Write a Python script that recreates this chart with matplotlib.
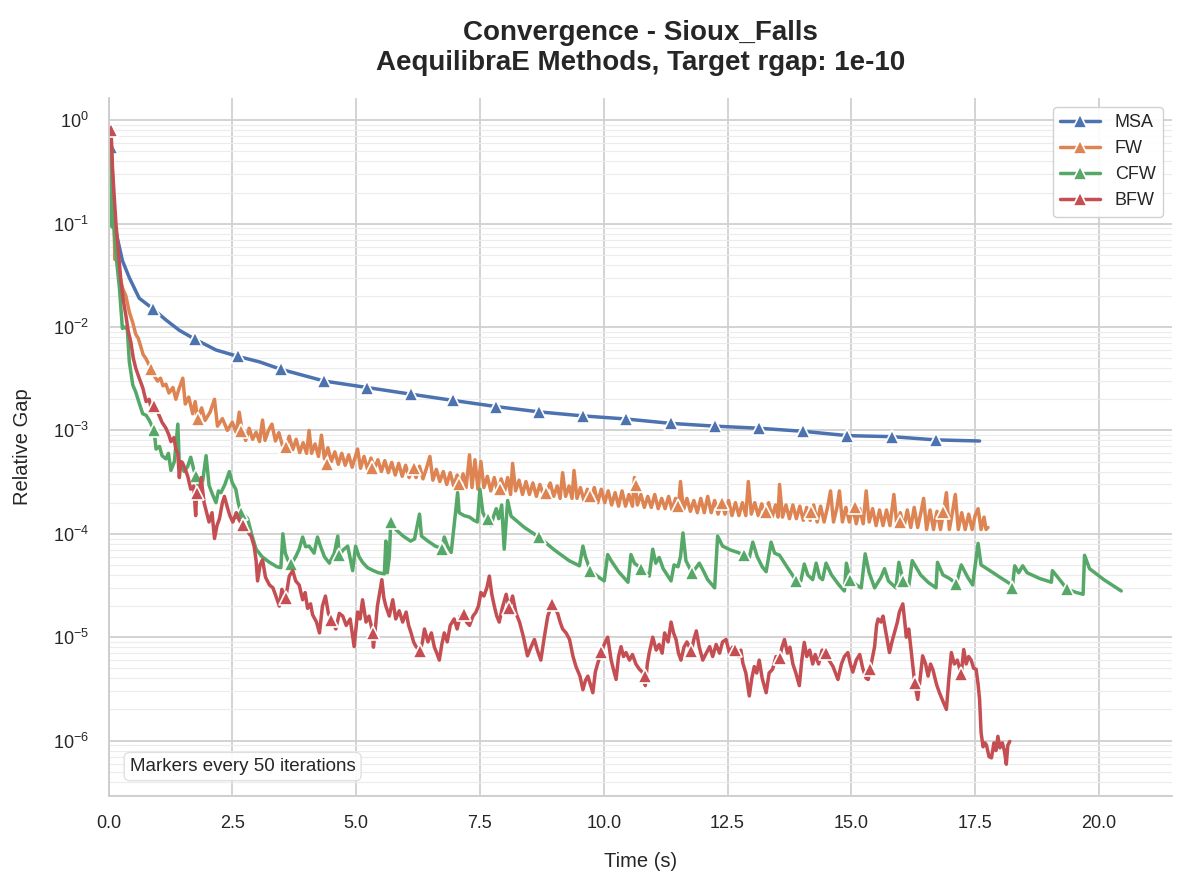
import numpy as np
import matplotlib
matplotlib.use("Agg")
import matplotlib.pyplot as plt
import seaborn as sns
from matplotlib.legend_handler import HandlerTuple

# --- data (time in s, relative gap) ---
methods = ['MSA', 'FW', 'CFW', 'BFW']
colors = ['#4C72B0', '#DD8452', '#55A868', '#C44E52']

msa_t = [0.05, 0.10, 0.14, 0.18, 0.28, 0.42, 0.62, 0.89, 1.16, 1.43, 1.75, 2.17, 2.61, 3.05,
         3.48, 4.36, 5.22, 6.11, 6.96, 7.83, 8.70, 9.59, 10.45, 11.35, 12.24, 13.13, 14.03,
         14.92, 15.82, 16.70, 17.59]
msa_g = [5.5e-1, 1.3e-1, 9.0e-2, 7.2e-2, 4.4e-2, 3.0e-2, 1.9e-2, 1.51e-2, 1.17e-2, 9.3e-3,
         7.6e-3, 6.0e-3, 5.2e-3, 4.6e-3, 3.9e-3, 3.0e-3, 2.6e-3, 2.24e-3, 1.95e-3, 1.7e-3,
         1.51e-3, 1.38e-3, 1.29e-3, 1.17e-3, 1.1e-3, 1.05e-3, 9.8e-4, 8.9e-4, 8.7e-4, 8.1e-4,
         7.9e-4]
msa_mk_t = [0.05, 0.89, 1.75, 2.61, 3.48, 4.36, 5.22, 6.11, 6.96, 7.83, 8.70, 9.59, 10.45,
            11.35, 12.24, 13.13, 14.03, 14.92, 15.82, 16.70]
msa_mk_g = [5.5e-1, 1.51e-2, 7.6e-3, 5.2e-3, 3.9e-3, 3.0e-3, 2.6e-3, 2.24e-3, 1.95e-3, 1.7e-3,
            1.51e-3, 1.38e-3, 1.29e-3, 1.17e-3, 1.1e-3, 1.05e-3, 9.8e-4, 8.9e-4, 8.7e-4, 8.1e-4]

fw_t = [0.05, 0.10, 0.13, 0.16, 0.20, 0.28, 0.35, 0.42, 0.49, 0.55, 0.60, 0.65, 0.70, 0.75,
        0.80, 0.86, 0.92, 0.99, 1.05, 1.10, 1.16, 1.22, 1.30, 1.36, 1.42, 1.50, 1.55, 1.62,
        1.70, 1.75, 1.80, 1.88, 1.95, 2.05, 2.14, 2.20, 2.30, 2.40, 2.50, 2.58, 2.64,
        2.70, 2.77, 2.84, 2.91, 2.98, 3.05, 3.11, 3.16, 3.23, 3.30, 3.37, 3.44,
        3.51, 3.58, 3.65, 3.72, 3.79, 3.86, 3.93, 4.00, 4.05, 4.10, 4.17, 4.24, 4.30, 4.36,
        4.43, 4.50,
        4.57, 4.64, 4.71, 4.78, 4.85, 4.92, 4.98, 5.03, 5.09, 5.16, 5.23, 5.30, 5.37, 5.44,
        5.51,
        5.58, 5.65, 5.72, 5.79, 5.86, 5.93, 6.00, 6.07, 6.14, 6.21, 6.28, 6.35, 6.42, 6.49,
        6.55,
        6.62, 6.69, 6.76, 6.83, 6.90, 6.97, 7.04, 7.10, 7.16, 7.22, 7.29, 7.34, 7.40, 7.46,
        7.52, 7.58, 7.65, 7.72, 7.79, 7.86, 7.93, 8.00, 8.06, 8.12, 8.16, 8.22, 8.29, 8.36,
        8.43, 8.50,
        8.57, 8.64, 8.71, 8.78, 8.85, 8.92, 8.99, 9.06, 9.12, 9.17, 9.23, 9.30, 9.36, 9.40,
        9.46, 9.53, 9.60, 9.67, 9.74, 9.81,
        9.88, 9.95, 10.02, 10.09, 10.16, 10.23, 10.30, 10.37, 10.44, 10.51, 10.58, 10.62,
        10.68, 10.75, 10.82, 10.89, 10.96, 11.03, 11.10, 11.17, 11.24, 11.31, 11.38, 11.45,
        11.51,
        11.55, 11.61, 11.68, 11.75, 11.82, 11.89, 11.96, 12.03, 12.10, 12.17, 12.24, 12.31,
        12.38, 12.45, 12.52, 12.59, 12.66, 12.73, 12.80, 12.87, 12.92, 12.98, 13.05, 13.12,
        13.19, 13.26, 13.33, 13.40, 13.47, 13.52,
        13.55, 13.61, 13.68, 13.75, 13.82, 13.89, 13.96, 14.03, 14.10, 14.17, 14.24, 14.31,
        14.38, 14.45, 14.52, 14.58, 14.64, 14.71, 14.76, 14.82, 14.89, 14.96, 15.03, 15.10,
        15.17, 15.24, 15.30, 15.36, 15.43, 15.50, 15.57,
        15.64, 15.71, 15.78, 15.86, 15.92, 15.99, 16.06, 16.13, 16.20, 16.27, 16.34, 16.41,
        16.46, 16.52, 16.59, 16.66, 16.73, 16.80, 16.86, 16.92, 16.98, 17.04, 17.10, 17.16,
        17.23, 17.30, 17.37, 17.44, 17.50, 17.56, 17.62, 17.68, 17.72, 17.76]
fw_g = [8.0e-1, 1.5e-1, 4.5e-2, 6.0e-2, 3.6e-2, 2.4e-2, 2.0e-2, 1.4e-2, 1.1e-2, 8.5e-3,
        7.8e-3, 6.5e-3, 5.4e-3, 5.0e-3, 4.5e-3, 3.9e-3, 3.4e-3, 3.0e-3, 3.2e-3, 2.7e-3,
        2.8e-3, 2.3e-3, 2.6e-3, 2.0e-3, 2.5e-3, 3.2e-3, 1.8e-3, 2.1e-3, 1.45e-3, 1.9e-3,
        1.3e-3, 1.65e-3, 1.25e-3, 1.5e-3, 2.0e-3, 1.1e-3, 1.3e-3, 1.0e-3, 1.2e-3, 9.5e-4,
        1.5e-3,
        9.8e-4, 8.0e-4, 1.05e-3, 8.2e-4, 9.6e-4, 7.8e-4, 1.26e-3, 8.0e-4, 1.0e-3, 1.15e-3,
        7.9e-4, 9.5e-4,
        7.2e-4, 6.9e-4, 8.8e-4, 6.5e-4, 8.2e-4, 6.1e-4, 7.6e-4, 6.0e-4, 1.0e-3, 6.0e-4,
        7.4e-4, 5.6e-4, 9.0e-4, 5.3e-4, 6.8e-4, 5.0e-4,
        6.2e-4, 4.7e-4, 6.0e-4, 4.6e-4, 5.8e-4, 4.4e-4, 5.5e-4, 6.6e-4, 4.3e-4, 5.6e-4,
        4.2e-4, 5.4e-4, 4.3e-4, 5.2e-4, 4.0e-4,
        5.1e-4, 3.9e-4, 4.9e-4, 3.7e-4, 4.8e-4, 3.6e-4, 4.6e-4, 3.5e-4, 4.3e-4, 3.5e-4,
        4.5e-4, 3.4e-4, 4.3e-4, 5.6e-4, 3.3e-4,
        4.2e-4, 3.2e-4, 4.0e-4, 3.0e-4, 3.9e-4, 2.9e-4, 3.7e-4, 3.0e-4, 3.8e-4, 2.8e-4,
        5.8e-4, 2.8e-4, 5.2e-4, 2.7e-4,
        5.0e-4, 2.8e-4, 3.6e-4, 2.6e-4, 3.5e-4, 2.5e-4, 3.4e-4, 2.6e-4, 3.5e-4, 2.4e-4,
        4.8e-4, 2.6e-4, 3.3e-4, 2.4e-4, 3.2e-4, 2.4e-4,
        3.1e-4, 2.3e-4, 3.0e-4, 2.4e-4, 2.6e-4, 3.1e-4, 2.3e-4, 2.9e-4, 2.2e-4, 3.9e-4,
        2.3e-4, 2.9e-4, 2.2e-4, 4.1e-4, 2.2e-4, 2.8e-4, 2.1e-4, 2.7e-4, 2.2e-4, 2.8e-4,
        2.0e-4, 2.7e-4, 2.0e-4, 2.6e-4, 1.9e-4, 2.5e-4, 1.85e-4, 2.6e-4, 1.85e-4, 2.4e-4,
        1.85e-4, 3.5e-4, 1.9e-4, 2.4e-4, 1.8e-4, 2.3e-4, 1.8e-4, 2.4e-4, 1.75e-4, 2.2e-4,
        1.75e-4, 2.3e-4, 1.7e-4, 2.2e-4, 1.86e-4,
        3.2e-4, 1.7e-4, 2.2e-4, 1.65e-4, 2.1e-4, 1.6e-4, 2.2e-4, 1.6e-4, 2.3e-4, 1.6e-4,
        2.1e-4, 1.55e-4, 2.0e-4, 1.55e-4, 2.1e-4, 1.5e-4, 2.0e-4, 1.5e-4, 2.0e-4, 1.5e-4,
        3.2e-4, 1.55e-4, 2.0e-4, 1.5e-4, 1.95e-4, 1.5e-4, 2.0e-4, 1.45e-4, 1.9e-4, 1.45e-4,
        3.0e-4, 1.45e-4, 1.9e-4, 1.4e-4, 1.9e-4, 1.4e-4, 1.85e-4, 1.35e-4, 1.8e-4, 1.35e-4,
        1.9e-4, 1.3e-4, 1.85e-4, 1.3e-4, 1.8e-4, 2.6e-4, 1.3e-4, 1.8e-4, 2.6e-4, 1.3e-4,
        1.8e-4, 1.3e-4, 1.8e-4, 1.25e-4, 1.75e-4, 1.25e-4, 2.6e-4, 1.3e-4, 1.75e-4, 1.2e-4,
        1.7e-4,
        1.2e-4, 1.7e-4, 1.2e-4, 2.4e-4, 1.2e-4, 1.6e-4, 1.15e-4, 1.7e-4, 1.15e-4, 1.8e-4,
        1.15e-4, 1.65e-4, 2.2e-4, 1.1e-4, 1.7e-4, 1.1e-4, 1.65e-4, 1.1e-4, 1.6e-4, 2.5e-4,
        1.1e-4, 1.6e-4, 2.4e-4, 1.1e-4, 1.6e-4, 1.1e-4, 1.55e-4, 1.1e-4, 1.5e-4, 1.75e-4,
        1.1e-4, 1.45e-4, 1.1e-4, 1.15e-4]
fw_mk_t = [0.05, 0.86, 1.80, 2.67, 3.58, 4.41, 5.32, 6.16, 7.07, 7.90, 8.84, 9.73, 10.65,
           11.49, 12.39, 13.27, 14.18, 15.08, 15.99, 16.86]
fw_mk_g = [8.0e-1, 3.9e-3, 1.29e-3, 9.8e-4, 6.9e-4, 4.7e-4, 4.3e-4, 4.3e-4, 3.0e-4, 2.7e-4,
           2.5e-4, 2.3e-4, 2.95e-4, 1.86e-4, 2.0e-4, 1.62e-4, 1.62e-4, 1.82e-4, 1.29e-4,
           1.62e-4]

cfw_t = [0.03, 0.06, 0.07, 0.09, 0.12, 0.16, 0.22, 0.26, 0.28, 0.33, 0.38, 0.42, 0.49, 0.55,
         0.61, 0.69, 0.76, 0.82, 0.88, 0.92, 0.96, 1.03, 1.08, 1.16, 1.21, 1.26, 1.33, 1.40,
         1.43, 1.48, 1.53, 1.60, 1.66, 1.72, 1.77, 1.83, 1.90, 1.97, 2.03, 2.10, 2.17, 2.22,
         2.27, 2.35, 2.44, 2.50, 2.57, 2.62, 2.67, 2.75, 2.81, 2.90, 2.98, 3.10, 3.25, 3.40,
         3.48, 3.52, 3.57, 3.62, 3.69, 3.78, 3.85, 3.92, 3.98, 4.05, 4.15, 4.22, 4.28, 4.36,
         4.46, 4.56, 4.63, 4.66, 4.74, 4.83, 4.93, 4.99, 5.06, 5.13, 5.23, 5.35, 5.45, 5.57,
         5.60, 5.63, 5.67, 5.70, 5.80, 5.95, 6.10, 6.18, 6.28, 6.32, 6.45, 6.60, 6.73, 6.78,
         6.85, 6.92, 7.05, 7.08, 7.18, 7.29, 7.38, 7.45, 7.50, 7.56, 7.62, 7.66, 7.72, 7.78,
         7.83, 7.88, 7.94, 7.99, 8.06, 8.13, 8.40, 8.69, 9.00, 9.30, 9.51, 9.58, 9.63, 9.73,
         9.90, 10.01, 10.08, 10.15, 10.30, 10.49, 10.55, 10.62, 10.76, 10.92, 10.99, 11.05,
         11.12, 11.20, 11.36, 11.42, 11.50, 11.55, 11.60, 11.66, 11.72, 11.78, 11.88, 11.93,
         12.00, 12.10, 12.24, 12.30, 12.40, 12.55, 12.71, 12.84, 12.94, 13.01, 13.10, 13.20,
         13.28, 13.38, 13.45, 13.55, 13.70, 13.89, 13.98, 14.05, 14.12, 14.22, 14.29, 14.36,
         14.42, 14.49, 14.60, 14.75, 14.86, 14.90, 14.98, 15.10, 15.20, 15.28, 15.36, 15.47,
         15.60, 15.67, 15.75, 15.90, 15.96, 16.05, 16.16, 16.23, 16.40, 16.55, 16.71, 16.74,
         16.85, 16.98, 17.12, 17.22, 17.35, 17.45, 17.56, 17.62, 17.80, 18.00, 18.20, 18.25,
         18.30, 18.38, 18.46, 18.55, 18.80, 19.04, 19.06, 19.15, 19.36, 19.55, 19.68, 19.71,
         19.81, 20.10, 20.45]
cfw_g = [8.0e-1, 2.0e-1, 9.3e-2, 1.5e-1, 8.0e-2, 4.5e-2, 2.4e-2, 1.3e-2, 9.7e-3, 1.0e-2,
         9.5e-3, 4.6e-3, 2.75e-3, 2.35e-3, 1.9e-3, 1.45e-3, 1.4e-3, 1.26e-3, 1.1e-3, 1.0e-3,
         6.6e-4, 7.0e-4, 5.7e-4, 5.3e-4, 6.0e-4, 4.1e-4, 5.0e-4, 1.15e-3, 4.6e-4, 4.3e-4,
         4.0e-4, 4.5e-4, 5.5e-4, 4.2e-4, 3.6e-4, 2.7e-4, 3.2e-4, 5.7e-4, 2.95e-4, 2.4e-4,
         2.0e-4, 2.6e-4, 2.5e-4, 3.0e-4, 4.0e-4, 3.1e-4, 2.7e-4, 2.0e-4, 1.6e-4, 1.5e-4,
         1.4e-4, 9.5e-5, 7.1e-5, 6.0e-5, 5.3e-5, 4.8e-5, 4.7e-5, 1.0e-4, 6.5e-5, 5.6e-5,
         5.1e-5, 6.0e-5, 7.1e-5, 9.3e-5, 7.5e-5, 7.6e-5, 6.5e-5, 9.3e-5, 7.6e-5, 6.0e-5,
         5.2e-5, 6.5e-5, 9.5e-5, 6.2e-5, 7.0e-5, 7.6e-5, 4.4e-5, 7.6e-5, 6.0e-5, 5.3e-5,
         4.7e-5, 4.4e-5, 4.2e-5, 4.1e-5, 8.5e-5, 4.2e-5, 6.0e-5, 1.29e-4, 1.1e-4, 9.5e-5,
         8.5e-5, 8.9e-5, 1.55e-4, 9.5e-5, 8.5e-5, 7.6e-5, 7.2e-5, 9.3e-5, 7.5e-5, 6.6e-5,
         2.5e-4, 1.6e-4, 1.5e-4, 1.45e-4, 1.35e-4, 1.3e-4, 2.7e-4, 1.6e-4, 1.4e-4, 1.38e-4,
         1.2e-4, 1.5e-4, 1.75e-4, 1.4e-4, 1.9e-4, 7.1e-5, 2.1e-4, 1.48e-4, 1.15e-4, 9.3e-5,
         7.0e-5, 5.5e-5, 4.9e-5, 7.6e-5, 6.0e-5, 4.4e-5, 3.8e-5, 3.5e-5, 6.3e-5, 5.5e-5,
         4.3e-5, 3.4e-5, 6.3e-5, 5.2e-5, 4.6e-5, 3.9e-5, 7.1e-5, 5.2e-5, 5.9e-5, 4.6e-5,
         3.5e-5, 5.0e-5, 4.8e-5, 6.0e-5, 1.02e-4, 5.5e-5, 4.8e-5, 4.2e-5, 4.8e-5, 5.2e-5,
         4.5e-5, 3.6e-5, 3.0e-5, 9.5e-5, 7.6e-5, 7.0e-5, 6.6e-5, 6.2e-5, 5.9e-5, 8.3e-5,
         6.0e-5, 4.8e-5, 4.3e-5, 8.3e-5, 6.5e-5, 6.2e-5, 4.8e-5, 3.5e-5, 3.5e-5, 5.1e-5,
         4.0e-5, 3.6e-5, 5.2e-5, 3.8e-5, 3.6e-5, 5.2e-5, 4.0e-5, 3.2e-5, 2.8e-5, 5.2e-5,
         3.6e-5, 3.2e-5, 3.0e-5, 6.4e-5, 4.2e-5, 3.0e-5, 3.8e-5, 4.6e-5, 3.5e-5, 3.0e-5,
         5.3e-5, 3.5e-5, 3.1e-5, 5.5e-5, 4.0e-5, 3.4e-5, 3.0e-5, 5.3e-5, 4.0e-5, 3.7e-5,
         3.3e-5, 5.0e-5, 3.8e-5, 3.2e-5, 8.1e-5, 5.0e-5, 4.4e-5, 3.8e-5, 3.3e-5, 3.0e-5,
         4.9e-5, 4.2e-5, 4.9e-5, 4.2e-5, 3.7e-5, 3.4e-5, 4.4e-5, 3.9e-5, 2.9e-5, 2.7e-5,
         2.6e-5, 6.2e-5, 4.6e-5, 3.6e-5, 2.8e-5]
cfw_mk_t = [0.03, 0.92, 1.77, 2.67, 3.69, 4.66, 5.70, 6.73, 7.66, 8.69, 9.73, 10.76, 11.78,
            12.84, 13.89, 14.98, 16.05, 17.12, 18.25, 19.36]
cfw_mk_g = [8.0e-1, 1.0e-3, 3.6e-4, 1.6e-4, 5.1e-5, 6.2e-5, 1.29e-4, 7.2e-5, 1.38e-4, 9.3e-5,
            4.4e-5, 4.6e-5, 4.2e-5, 6.2e-5, 3.5e-5, 3.6e-5, 3.5e-5, 3.3e-5, 3.0e-5, 2.9e-5]

bfw_t = [0.05, 0.08, 0.11, 0.15, 0.18, 0.22, 0.25, 0.30, 0.35, 0.40, 0.45, 0.50, 0.55, 0.62,
         0.69, 0.76, 0.82, 0.88, 0.92, 0.97, 1.02, 1.08, 1.16, 1.22, 1.26, 1.32, 1.36, 1.40,
         1.43, 1.46, 1.49, 1.55, 1.60, 1.66, 1.72, 1.76, 1.78, 1.83, 1.87, 1.93, 2.03, 2.09,
         2.14, 2.19, 2.24, 2.30, 2.34, 2.40, 2.45, 2.51, 2.58, 2.64, 2.71, 2.78, 2.84, 2.88,
         2.94, 2.98, 3.01, 3.06, 3.11, 3.17, 3.25, 3.32, 3.38, 3.45, 3.50, 3.58, 3.65, 3.72,
         3.78, 3.85, 3.92, 3.97, 4.02, 4.08, 4.12, 4.20, 4.26, 4.32, 4.38, 4.44, 4.50, 4.59,
         4.66, 4.73, 4.80, 4.88, 4.96, 5.03, 5.08, 5.13, 5.20, 5.26, 5.32, 5.35, 5.38, 5.43,
         5.52, 5.56, 5.60, 5.67, 5.74, 5.80, 5.87, 5.94, 6.01, 6.06, 6.11, 6.16, 6.21, 6.29,
         6.34, 6.38, 6.45, 6.52, 6.58, 6.63, 6.68, 6.73, 6.78, 6.84, 6.90, 6.98, 7.04, 7.10,
         7.17, 7.23, 7.29, 7.36, 7.42, 7.47, 7.52, 7.58, 7.64, 7.69, 7.74, 7.79, 7.84, 7.89,
         7.95, 8.03, 8.09, 8.16, 8.23, 8.30, 8.38, 8.46, 8.53, 8.60, 8.66, 8.73, 8.80, 8.87,
         8.96, 9.02, 9.07, 9.12, 9.17, 9.24, 9.31, 9.38, 9.44, 9.52, 9.58, 9.63, 9.68, 9.73,
         9.78, 9.83, 9.88, 9.95, 10.01, 10.08, 10.15, 10.20, 10.25, 10.30, 10.35, 10.40,
         10.45, 10.52, 10.58, 10.65, 10.72, 10.80, 10.84, 10.88, 10.92, 10.99, 11.06, 11.12,
         11.18, 11.23, 11.30, 11.36, 11.41, 11.46, 11.51, 11.56, 11.62, 11.68, 11.77, 11.82,
         11.87, 11.93, 12.00, 12.07, 12.14, 12.20, 12.27, 12.34, 12.40, 12.47, 12.54, 12.60,
         12.66, 12.72, 12.77, 12.81, 12.87, 12.94, 12.99, 13.04, 13.09, 13.14, 13.20, 13.28,
         13.34, 13.41, 13.48, 13.55, 13.60, 13.65, 13.71, 13.76, 13.82, 13.88, 13.95, 14.00,
         14.05, 14.10, 14.16, 14.22, 14.27, 14.34, 14.41, 14.48, 14.55, 14.63, 14.68, 14.73,
         14.80, 14.86, 14.93, 14.98, 15.03, 15.10, 15.17, 15.23, 15.30, 15.34, 15.38, 15.43,
         15.47, 15.51, 15.54, 15.60, 15.64, 15.70, 15.77, 15.82, 15.87, 15.93, 15.97, 16.04,
         16.08, 16.11, 16.16, 16.20, 16.28, 16.34, 16.39, 16.44, 16.50, 16.55, 16.60, 16.65,
         16.72, 16.78, 16.85, 16.92, 16.97, 17.02, 17.08, 17.14, 17.22, 17.27, 17.32, 17.37,
         17.42, 17.47, 17.52, 17.56, 17.59, 17.62, 17.66, 17.70, 17.73, 17.78, 17.83, 17.88,
         17.92, 17.96, 18.00, 18.05, 18.09, 18.13, 18.16, 18.20]
bfw_g = [8.1e-1, 3.5e-1, 2.0e-1, 1.0e-1, 6.8e-2, 4.0e-2, 2.8e-2, 1.8e-2, 1.3e-2, 9.0e-3,
         7.2e-3, 5.0e-3, 4.0e-3, 3.2e-3, 2.6e-3, 1.9e-3, 2.0e-3, 1.5e-3, 1.74e-3, 1.6e-3,
         1.4e-3, 1.2e-3, 1.05e-3, 9.0e-4, 7.8e-4, 8.5e-4, 6.6e-4, 6.0e-4, 3.5e-4, 5.0e-4,
         4.9e-4, 4.2e-4, 3.6e-4, 2.7e-4, 2.9e-4, 1.5e-4, 2.5e-4, 2.3e-4, 3.5e-4, 2.0e-4,
         1.3e-4, 1.6e-4, 9.0e-5, 1.2e-4, 1.4e-4, 2.0e-4, 2.3e-4, 1.8e-4, 1.5e-4, 1.3e-4,
         1.6e-4, 1.35e-4, 1.23e-4, 1.15e-4, 1.0e-4, 9.5e-5, 7.6e-5, 5.5e-5, 3.5e-5, 5.0e-5,
         5.6e-5, 3.8e-5, 3.2e-5, 3.0e-5, 2.5e-5, 2.0e-5, 2.9e-5, 2.4e-5, 3.9e-5, 4.4e-5,
         3.5e-5, 3.2e-5, 2.3e-5, 2.7e-5, 1.9e-5, 2.1e-5, 1.65e-5, 1.4e-5, 1.1e-5, 2.0e-5,
         2.5e-5, 1.7e-5, 1.48e-5, 1.2e-5, 1.7e-5, 1.6e-5, 1.3e-5, 1.5e-5, 8.1e-6, 1.75e-5,
         1.5e-5, 2.3e-5, 1.4e-5, 1.6e-5, 1.2e-5, 8.0e-6, 1.1e-5, 2.0e-5, 3.6e-5, 2.4e-5,
         2.0e-5, 1.6e-5, 2.3e-5, 1.5e-5, 1.8e-5, 1.4e-5, 1.75e-5, 1.3e-5, 1.1e-5, 9.0e-6,
         8.1e-6, 7.4e-6, 9.0e-6, 1.2e-5, 9.0e-6, 1.1e-5, 8.0e-6, 7.0e-6, 6.0e-6, 8.5e-6,
         1.1e-5, 9.0e-6, 1.3e-5, 1.5e-5, 1.2e-5, 1.6e-5, 1.66e-5, 1.4e-5, 1.3e-5, 1.6e-5,
         1.75e-5, 2.0e-5, 2.7e-5, 2.5e-5, 3.0e-5, 3.9e-5, 2.6e-5, 2.0e-5, 1.6e-5, 1.4e-5,
         1.9e-5, 2.6e-5, 1.9e-5, 2.5e-5, 1.7e-5, 1.4e-5, 1.0e-5, 6.6e-6, 8.0e-6, 9.5e-6,
         7.5e-6, 6.0e-6, 1.0e-5, 1.6e-5, 2.1e-5, 1.9e-5, 1.7e-5, 1.4e-5, 1.2e-5, 1.1e-5,
         9.5e-6, 6.5e-6, 5.2e-6, 4.2e-6, 3.1e-6, 3.8e-6, 4.2e-6, 3.5e-6, 2.9e-6, 4.6e-6,
         5.6e-6, 7.2e-6, 8.5e-6, 1.0e-5, 6.0e-6, 4.8e-6, 3.9e-6, 6.5e-6, 8.1e-6, 6.5e-6,
         7.1e-6, 6.0e-6, 6.8e-6, 5.5e-6, 4.9e-6, 4.5e-6, 3.4e-6, 5.5e-6, 7.1e-6, 1.0e-5,
         7.5e-6, 8.5e-6, 7.0e-6, 1.1e-5, 9.0e-6, 1.4e-5, 1.1e-5, 9.5e-6, 7.0e-6, 6.0e-6,
         8.0e-6, 9.0e-6, 7.4e-6, 9.5e-6, 1.15e-5, 8.0e-6, 6.0e-6, 7.0e-6, 8.1e-6, 6.5e-6,
         8.5e-6, 7.0e-6, 9.0e-6, 9.5e-6, 7.0e-6, 8.0e-6, 7.6e-6, 6.5e-6, 7.5e-6, 5.6e-6,
         4.5e-6, 2.7e-6, 4.0e-6, 5.2e-6, 4.5e-6, 6.0e-6, 4.0e-6, 2.9e-6, 4.5e-6, 4.9e-6,
         6.5e-6, 6.3e-6, 8.0e-6, 9.5e-6, 7.0e-6, 8.0e-6, 5.5e-6, 4.5e-6, 3.4e-6, 6.0e-6,
         8.9e-6, 6.5e-6, 7.5e-6, 5.5e-6, 6.8e-6, 5.5e-6, 7.5e-6, 7.1e-6, 6.0e-6, 5.2e-6,
         4.5e-6, 3.9e-6, 5.5e-6, 6.5e-6, 7.1e-6, 5.5e-6, 4.6e-6, 6.0e-6, 6.8e-6, 5.0e-6,
         4.0e-6, 3.9e-6, 4.9e-6, 6.5e-6, 8.1e-6, 1.3e-5, 1.5e-5, 1.4e-5, 1.6e-5, 1.1e-5,
         7.1e-6, 9.0e-6, 1.1e-5, 1.4e-5, 1.75e-5, 2.1e-5, 1.4e-5, 1.0e-5, 1.2e-5, 8.0e-6,
         3.6e-6, 2.5e-6, 4.0e-6, 6.6e-6, 5.5e-6, 4.2e-6, 5.5e-6, 4.8e-6, 3.5e-6, 2.9e-6,
         2.4e-6, 2.0e-6, 4.0e-6, 7.1e-6, 5.5e-6, 6.0e-6, 4.4e-6, 7.6e-6, 5.5e-6, 6.5e-6,
         6.0e-6, 5.0e-6, 4.9e-6, 3.5e-6, 2.5e-6, 1.2e-6, 8.7e-7, 9.5e-7, 9.0e-7, 7.0e-7,
         6.8e-7, 9.5e-7, 8.0e-7, 1.1e-6, 8.5e-7, 9.5e-7, 8.0e-7, 5.9e-7, 9.0e-7, 9.8e-7]
bfw_mk_t = [0.05, 0.92, 1.78, 2.71, 3.58, 4.50, 5.35, 6.29, 7.17, 8.09, 8.96, 9.95, 10.84,
            11.77, 12.66, 13.55, 14.48, 15.38, 16.28, 17.22]
bfw_mk_g = [8.1e-1, 1.74e-3, 2.5e-4, 1.23e-4, 2.4e-5, 1.48e-5, 1.1e-5, 7.4e-6, 1.66e-5,
            1.9e-5, 2.1e-5, 7.2e-6, 4.2e-6, 7.4e-6, 7.6e-6, 6.3e-6, 7.1e-6, 4.9e-6, 3.6e-6,
            4.4e-6]

series = [(msa_t, msa_g, msa_mk_t, msa_mk_g),
          (fw_t, fw_g, fw_mk_t, fw_mk_g),
          (cfw_t, cfw_g, cfw_mk_t, cfw_mk_g),
          (bfw_t, bfw_g, bfw_mk_t, bfw_mk_g)]

sns.set_theme(style='whitegrid')
plt.rcParams['font.family'] = ['Liberation Sans', 'DejaVu Sans']
plt.rcParams['mathtext.default'] = 'regular'

fig = plt.figure(figsize=(11.86, 8.86), dpi=100)
ax = fig.add_axes([0.0915, 0.1016, 0.8965, 0.7878])

handles = []
for (t, g, mt, mg), name, c in zip(series, methods, colors):
    ln, = ax.plot(t, g, color=c, lw=2.5, solid_joinstyle='round')
    mk, = ax.plot(mt, mg, ls='none', marker='^', ms=10, mfc=c, mec='white', mew=1.2)
    handles.append((ln, mk))

ax.set_yscale('log')
ax.set_xlim(left=0)
ax.grid(True, which='major', color='#d0d0d0', lw=1.3)
ax.grid(True, which='minor', axis='y', color='#ececec', lw=0.8)
ax.tick_params(axis='both', labelsize=13, pad=8)
for side in ['top', 'right']:
    ax.spines[side].set_visible(False)
for side in ['left', 'bottom']:
    ax.spines[side].set_color('#cccccc')
    ax.spines[side].set_linewidth(1.3)

ax.set_xlabel('Time (s)', fontsize=14.5, labelpad=14)
ax.set_ylabel('Relative Gap', fontsize=14.5, labelpad=15)
ax.set_title('Convergence - Sioux_Falls\nAequilibraE Methods, Target rgap: 1e-10',
             fontsize=20, fontweight='bold', pad=20, color='#262626')

ax.legend(handles, methods, handler_map={tuple: HandlerTuple(ndivide=1)},
          loc='upper right', fontsize=13, frameon=True, framealpha=0.9, edgecolor='#cccccc',
          handlelength=2.2)

ax.text(0.02, 0.03, 'Markers every 50 iterations', transform=ax.transAxes, fontsize=13.5,
        va='bottom', ha='left',
        bbox=dict(boxstyle='round,pad=0.3', facecolor='white', edgecolor='#dddddd', alpha=0.9))

fig.savefig('out.png', dpi=100)
